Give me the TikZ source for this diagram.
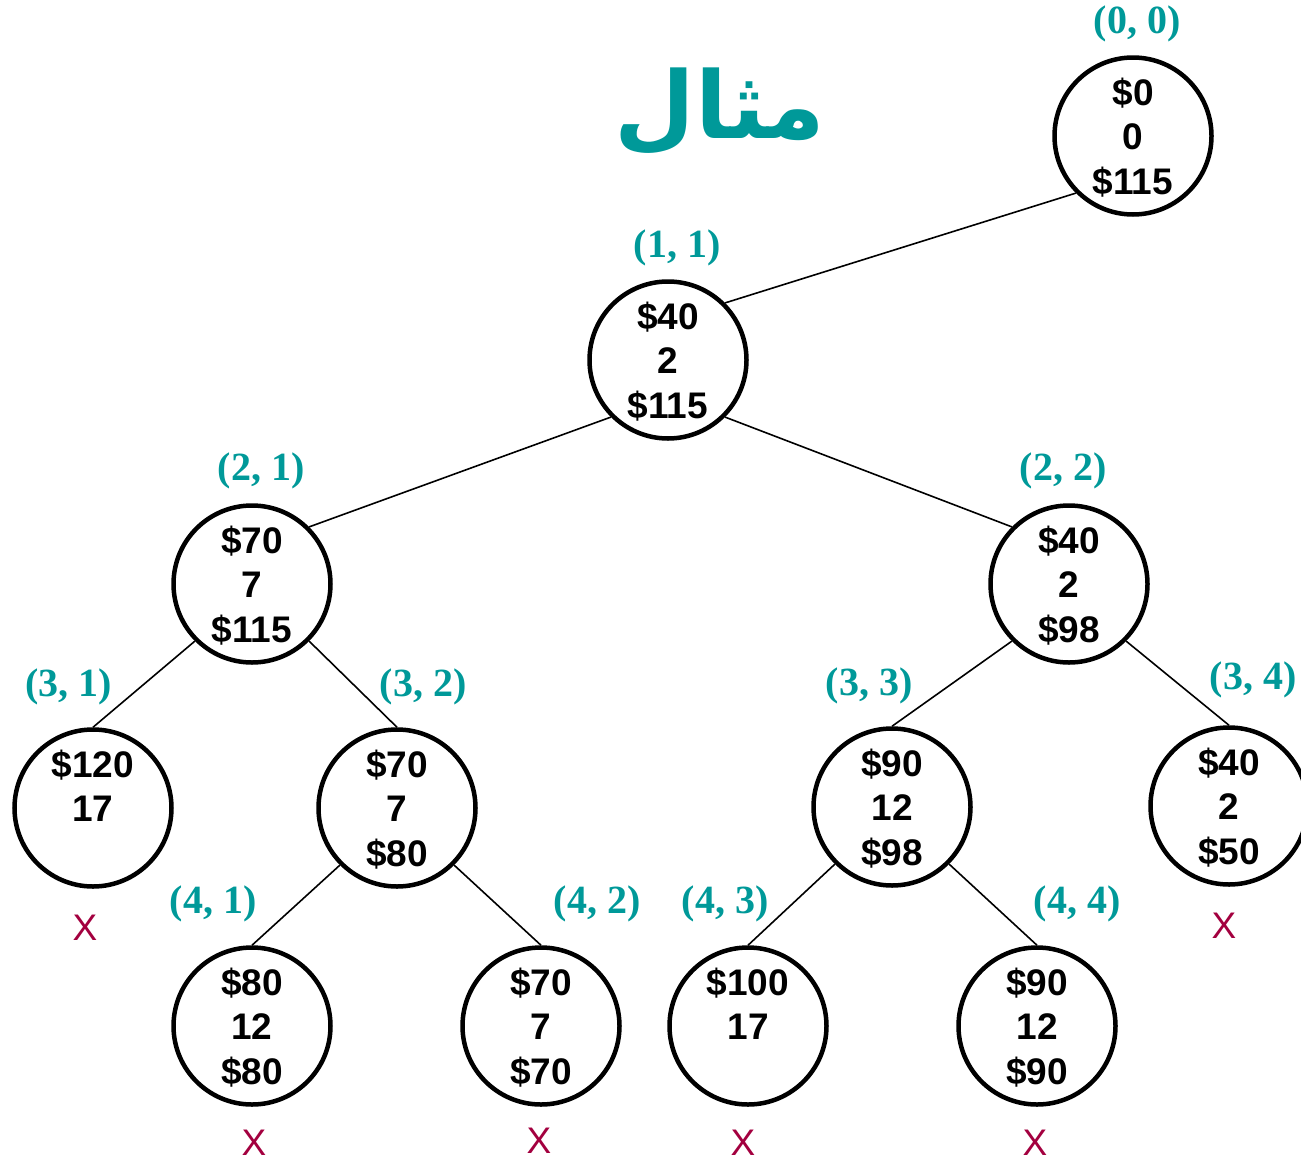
\documentclass[tikz,border=0pt]{standalone}
\usepackage{fontspec}
\setmainfont{Liberation Sans}
\newfontfamily\labfont{Liberation Serif}
\newfontfamily\arabicfont[Script=Arabic]{DejaVu Sans}
\TeXXeTstate=1
\definecolor{tealc}{RGB}{0,153,153}
\definecolor{xred}{RGB}{163,0,63}
\newcommand\mystrut{\rule[-5pt]{0pt}{37pt}}
\newcommand\tri[3]{\mystrut #1\\\mystrut #2\\\mystrut #3}
\begin{document}
\begin{tikzpicture}[x=1pt,y=-1pt,
 st/.style={circle, draw, line width=4.5pt, minimum size=157pt, inner sep=0pt, align=center,
   font=\fontsize{37}{44.5}\selectfont\bfseries},
 lab/.style={text=tealc, inner sep=0pt, font=\labfont\fontsize{40}{44}\selectfont\bfseries},
 xm/.style={text=xred, inner sep=0pt, font=\fontsize{37}{40}\selectfont},
 edge/.style={line width=1.6pt}]
\useasboundingbox (0,0) rectangle (1301,1162);

\node[text=tealc, font=\arabicfont\fontsize{93}{100}\selectfont\bfseries] (title) at (720,112) {\beginR مثال\endR};

\node[st] (r)   at (1133,136) {\tri{\$0}{0}{\$115}};
\node[st] (n11) at (668,360)  {\tri{\$40}{2}{\$115}};
\node[st] (n21) at (252,584)  {\tri{\$70}{7}{\$115}};
\node[st] (n22) at (1069,584) {\tri{\$40}{2}{\$98}};
\node[st] (n31) at (93,808)   {\tri{\$120}{17}{}};
\node[st] (n32) at (397,808)  {\tri{\$70}{7}{\$80}};
\node[st] (n33) at (892,807)  {\tri{\$90}{12}{\$98}};
\node[st] (n34) at (1229,806) {\tri{\$40}{2}{\$50}};
\node[st] (n41) at (252,1026) {\tri{\$80}{12}{\$80}};
\node[st] (n42) at (541,1026) {\tri{\$70}{7}{\$70}};
\node[st] (n43) at (748,1026) {\tri{\$100}{17}{}};
\node[st] (n44) at (1037,1026){\tri{\$90}{12}{\$90}};

\draw[edge] (r.south west) -- (n11.north east);
\draw[edge] (n11.south west) -- (n21.north east);
\draw[edge] (n11.south east) -- (n22.north west);
\draw[edge] (n21.south west) -- (n31.north);
\draw[edge] (n21.south east) -- (n32.north);
\draw[edge] (n22.south west) -- (n33.north);
\draw[edge] (n22.south east) -- (n34.north);
\draw[edge] (n32.south west) -- (n41.north);
\draw[edge] (n32.south east) -- (n42.north);
\draw[edge] (n33.south west) -- (n43.north);
\draw[edge] (n33.south east) -- (n44.north);

\node[lab] (l00) at (1137,24)  {(0, 0)};
\node[lab] (l11) at (677,248)  {(1, 1)};
\node[lab] (l21) at (261,471)  {(2, 1)};
\node[lab] (l22) at (1063,471) {(2, 2)};
\node[lab] (l31) at (69,687)   {(3, 1)};
\node[lab] (l32) at (423,687)  {(3, 2)};
\node[lab] (l33) at (869,686)  {(3, 3)};
\node[lab] (l34) at (1253,680) {(3, 4)};
\node[lab] (l41) at (213,904)  {(4, 1)};
\node[lab] (l42) at (597,904)  {(4, 2)};
\node[lab] (l43) at (725,904)  {(4, 3)};
\node[lab] (l44) at (1077,904) {(4, 4)};

\node[xm] (x31) at (85,928)   {X};
\node[xm] (x41) at (254,1143) {X};
\node[xm] (x42) at (539,1141) {X};
\node[xm] (x43) at (743,1143) {X};
\node[xm] (x44) at (1035,1143){X};
\node[xm] (x34) at (1224,926) {X};
\end{tikzpicture}
\end{document}
